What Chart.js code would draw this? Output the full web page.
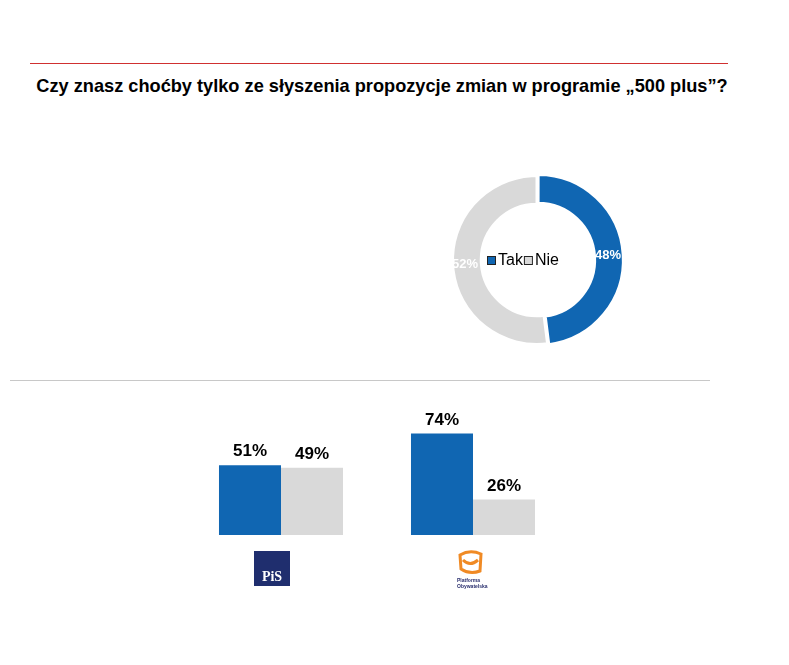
<!DOCTYPE html>
<html>
<head>
<meta charset="utf-8">
<script src="https://cdn.jsdelivr.net/npm/chart.js@4"></script>
<style>
  body { margin: 0; width: 789px; height: 665px; background: #fff; position: relative; overflow: hidden; font-family: "Liberation Sans", Arial, sans-serif; }
  .linia { position: absolute; height: 1px; }
  #tytul { position: absolute; left: 0; width: 764px; top: 76px; text-align: center; font-weight: bold; font-size: 18.2px; color: #000; }
  canvas { position: absolute; }
</style>
</head>
<body>
<div class="linia" style="left:30px; top:63px; width:698px; background:#D03030;"></div>
<div id="tytul">Czy znasz choćby tylko ze słyszenia propozycje zmian w programie „500 plus”?</div>
<div class="linia" style="left:10px; top:380px; width:700px; background:#C8C8C8;"></div>
<div style="position:absolute; left:437px; top:160px; width:200px; height:200px;"><canvas id="kolo"></canvas></div>
<div style="position:absolute; left:185px; top:390px; width:384px; height:210px;"><canvas id="slupki"></canvas></div>
<script>
// dane
const odpowiedzi = ["Tak", "Nie"];
const ogolem = [48, 52];
const partie = ["PiS", "Platforma Obywatelska"];
const takPartie = [51, 74];
const niePartie = [49, 26];

const niebieski = "#1066B2";
const szary = "#D9D9D9";

// etykiety procentowe na wycinkach
const etykietyKolo = {
    id: "etykietyKolo",
    afterDatasetsDraw(chart) {
        const ctx = chart.ctx;
        const meta = chart.getDatasetMeta(0);
        ctx.save();
        ctx.font = "bold 13px 'Liberation Sans', Arial";
        ctx.fillStyle = "#fff";
        ctx.textAlign = "center";
        ctx.textBaseline = "middle";
        meta.data.forEach((arc, i) => {
            const r = (arc.innerRadius + arc.outerRadius) / 2;
            const kat = (arc.startAngle + arc.endAngle) / 2;
            const x = arc.x + Math.cos(kat) * r + (i == 0 ? 1 : -2);
            const y = arc.y + Math.sin(kat) * r;
            ctx.fillText(ogolem[i] + "%", x, y);
        });
        // legenda w srodku
        const cx = meta.data[0].x, cy = meta.data[0].y;
        ctx.font = "16px 'Liberation Sans', Arial";
        ctx.textAlign = "left";
        let x = cx - 50;
        odpowiedzi.forEach((o, i) => {
            ctx.fillStyle = i == 0 ? niebieski : szary;
            ctx.fillRect(x, cy - 4, 8, 8);
            ctx.strokeStyle = "#222";
            ctx.lineWidth = 1;
            ctx.strokeRect(x + 0.5, cy - 3.5, 8, 8);
            ctx.fillStyle = "#000";
            ctx.fillText(o, x + 11, cy + 1);
            x += 11 + ctx.measureText(o).width + 1;
        });
        ctx.restore();
    }
};

new Chart(document.getElementById("kolo"), {
    type: "doughnut",
    data: {
        labels: odpowiedzi,
        datasets: [{
            data: ogolem,
            backgroundColor: [niebieski, szary],
            borderColor: "#fff",
            borderWidth: 3,
            offset: [4, 0]
        }]
    },
    options: {
        responsive: true,
        maintainAspectRatio: false,
        animation: false,
        cutout: "66%",
        layout: { padding: 12 },
        plugins: { legend: { display: false }, tooltip: { enabled: false } }
    },
    plugins: [etykietyKolo]
});

// etykiety nad slupkami + logotypy
const etykietySlupki = {
    id: "etykietySlupki",
    afterDatasetsDraw(chart) {
        const ctx = chart.ctx;
        ctx.save();
        ctx.font = "bold 17px 'Liberation Sans', Arial";
        ctx.fillStyle = "#000";
        ctx.textAlign = "center";
        ctx.textBaseline = "bottom";
        chart.data.datasets.forEach((ds, d) => {
            chart.getDatasetMeta(d).data.forEach((bar, i) => {
                ctx.fillText(ds.data[i] + "%", bar.x, bar.y - 5);
            });
        });
        // logo PiS
        const xs = chart.scales.x;
        const dol = chart.chartArea.bottom;
        let lx = xs.getPixelForValue(0) - 10;
        ctx.fillStyle = "#1F2E6E";
        ctx.fillRect(lx - 17, dol + 16, 36, 35);
        ctx.fillStyle = "#fff";
        ctx.font = "bold 14px 'Liberation Serif', serif";
        ctx.textBaseline = "alphabetic";
        ctx.fillText("PiS", lx + 1, dol + 46);
        // logo PO
        lx = xs.getPixelForValue(1) - 3;
        ctx.strokeStyle = "#F08A24";
        ctx.lineWidth = 3;
        ctx.beginPath();
        ctx.moveTo(lx - 10, dol + 20);
        ctx.quadraticCurveTo(lx, dol + 14, lx + 11, dol + 19);
        ctx.lineTo(lx + 10, dol + 36);
        ctx.quadraticCurveTo(lx, dol + 40, lx - 9, dol + 34);
        ctx.closePath();
        ctx.stroke();
        ctx.beginPath();
        ctx.moveTo(lx - 7, dol + 25);
        ctx.quadraticCurveTo(lx, dol + 32, lx + 8, dol + 25);
        ctx.stroke();
        ctx.fillStyle = "#2A2F6E";
        ctx.font = "bold 5px 'Liberation Sans', Arial";
        ctx.textAlign = "left";
        ctx.fillText("Platforma", lx - 13, dol + 47);
        ctx.fillText("Obywatelska", lx - 13, dol + 53);
        ctx.restore();
    }
};

new Chart(document.getElementById("slupki"), {
    type: "bar",
    data: {
        labels: partie,
        datasets: [
            { label: "Tak", data: takPartie, backgroundColor: niebieski },
            { label: "Nie", data: niePartie, backgroundColor: szary }
        ]
    },
    options: {
        responsive: true,
        maintainAspectRatio: false,
        animation: false,
        layout: { padding: { top: 8, bottom: 65 } },
        datasets: { bar: { categoryPercentage: 0.646, barPercentage: 1.0 } },
        scales: {
            x: { display: false },
            y: { display: false, min: 0, max: 100 }
        },
        plugins: { legend: { display: false }, tooltip: { enabled: false } }
    },
    plugins: [etykietySlupki]
});
</script>
</body>
</html>
